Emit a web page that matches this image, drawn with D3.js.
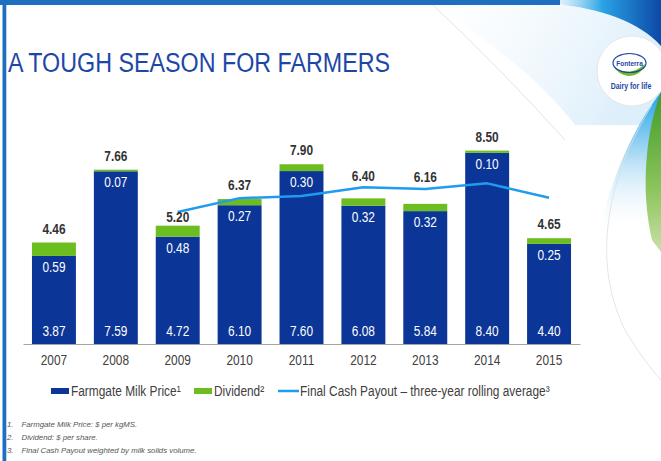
<!DOCTYPE html>
<html>
<head>
<meta charset="utf-8">
<script src="https://cdn.jsdelivr.net/npm/d3@7"></script>
<style>
  html, body { margin: 0; padding: 0; background: #fff; }
  svg { display: block; }
  text { font-family: "Liberation Sans", Arial, sans-serif; }
  .note { font-style: italic; }
</style>
</head>
<body>
<svg id="chart" width="661" height="461"></svg>
<script>
// Season years shown on the x axis
const years = ["2007", "2008", "2009", "2010", "2011", "2012", "2013", "2014", "2015"];
// Farmgate milk price, $ per kgMS
const milkPrice = [3.87, 7.59, 4.72, 6.10, 7.60, 6.08, 5.84, 8.40, 4.40];
// Dividend, $ per share
const dividend = [0.59, 0.07, 0.48, 0.27, 0.30, 0.32, 0.32, 0.10, 0.25];
// Final cash payout, three-year rolling average
const rollingYears = ["2009", "2010", "2011", "2012", "2013", "2014", "2015"];
const rollingAvg = [5.80, 6.41, 6.50, 6.89, 6.81, 7.06, 6.43];
// Legend and footnote texts
const legendLabels = ["Farmgate Milk Price\u00B9", "Dividend\u00B2", "Final Cash Payout \u2013 three-year rolling average\u00B3"];
const footnotes = ["Farmgate Milk Price: $ per kgMS.", "Dividend: $ per share.", "Final Cash Payout weighted by milk solids volume."];

const BLUE = "#0b3697", GREEN = "#6cbd1f", LINE = "#1f9bef", FRAME = "#1f6fc1";
const NARROW = 0.82; // horizontal squeeze that gives a narrow sans face
// Total labels sit 9px above their bar, except where the payout line runs close by.
const totalLabelGap = { "2009": 3.5, "2012": 17.5, "2013": 21.5 };

// Turn x/y placement into a transform so the glyphs can be condensed.
function narrow(sel) {
  sel.each(function () {
    const t = d3.select(this);
    const tx = +t.attr("x") || 0, ty = +t.attr("y") || 0;
    t.attr("x", 0).attr("y", 0).attr("transform", `translate(${tx},${ty}) scale(${NARROW},1)`);
  });
  return sel;
}

const svg = d3.select("#chart");
const defs = svg.append("defs");

// ---- slide background decoration ----
const haze = defs.append("linearGradient").attr("id", "haze").attr("x1", 0).attr("y1", 0).attr("x2", 1).attr("y2", 0.3);
haze.append("stop").attr("offset", "0").attr("stop-color", "#e8f4fc").attr("stop-opacity", 0);
haze.append("stop").attr("offset", "1").attr("stop-color", "#cfe8f8").attr("stop-opacity", 1);
const swoosh = defs.append("linearGradient").attr("id", "swoosh").attr("x1", 0).attr("y1", 0).attr("x2", 1).attr("y2", 0);
swoosh.append("stop").attr("offset", "0").attr("stop-color", "#8fd0f2").attr("stop-opacity", 0.2);
swoosh.append("stop").attr("offset", "0.45").attr("stop-color", "#29a3e6");
swoosh.append("stop").attr("offset", "1").attr("stop-color", "#0c48a6");
const wedge = defs.append("linearGradient").attr("id", "wedge").attr("x1", 0).attr("y1", 0).attr("x2", 0).attr("y2", 1);
wedge.append("stop").attr("offset", "0").attr("stop-color", "#20a2e6");
wedge.append("stop").attr("offset", "0.5").attr("stop-color", "#bfe3f7");
wedge.append("stop").attr("offset", "1").attr("stop-color", "#ffffff").attr("stop-opacity", 0);
const leaf = defs.append("linearGradient").attr("id", "leaf").attr("x1", 0).attr("y1", 0).attr("x2", 0).attr("y2", 1);
leaf.append("stop").attr("offset", "0").attr("stop-color", "#3f9a2a");
leaf.append("stop").attr("offset", "0.6").attr("stop-color", "#8cc45a");
leaf.append("stop").attr("offset", "1").attr("stop-color", "#c9e0a8");

const deco = svg.append("g");
deco.append("path").attr("d", "M430,5 C490,40 540,80 575,125 L661,125 L661,5 Z").attr("fill", "url(#haze)").attr("opacity", 0.7);
deco.append("path").attr("d", "M433,5 Q500,68 565,140").attr("fill", "none").attr("stroke", "#dcdcdc").attr("stroke-width", 0.8);
deco.append("path").attr("d", "M555,4 C600,8 640,22 661,46 L661,0 L555,0 Z").attr("fill", "url(#swoosh)");
deco.append("path").attr("d", "M661,92 C635,125 612,175 598,235 L661,235 Z").attr("fill", "url(#wedge)");
deco.append("path").attr("d", "M661,92 C646,130 640,190 652,240 L661,252 Z").attr("fill", "url(#leaf)");
deco.append("path").attr("d", "M652,105 C612,170 588,255 625,330 C638,352 650,368 661,380").attr("fill", "none").attr("stroke", "#dedede").attr("stroke-width", 0.8);
// logo disc
deco.append("circle").attr("cx", 632).attr("cy", 71).attr("r", 35).attr("fill", "#fff").attr("stroke", "#e2e2e2").attr("stroke-width", 0.8);
deco.append("path").attr("d", "M614,67 Q629,78 645,64 Q641,76 628,76 Q618,74 614,67 Z").attr("fill", "#6cbd1f");
deco.append("ellipse").attr("cx", 629.5).attr("cy", 63).attr("rx", 16.5).attr("ry", 9.5).attr("fill", "none").attr("stroke", "#1c47a6").attr("stroke-width", 1.2);
narrow(deco.append("text").attr("x", 629.5).attr("y", 65.5).attr("text-anchor", "middle").attr("font-size", 8).attr("font-weight", "bold").attr("fill", "#1c47a6").text("Fonterra"));
narrow(deco.append("text").attr("x", 631).attr("y", 89).attr("text-anchor", "middle").attr("font-size", 8.5).attr("font-weight", "bold").attr("fill", "#1c47a6").text("Dairy for life"));
// frame
deco.append("rect").attr("x", 0).attr("y", 0).attr("width", 560).attr("height", 5).attr("fill", FRAME);
deco.append("rect").attr("x", 2.5).attr("y", 0).attr("width", 3.8).attr("height", 461).attr("fill", FRAME);

// ---- title ----
narrow(svg.append("text").attr("x", 8).attr("y", 72).attr("font-size", 28.4).attr("fill", "#1c47a6")
  .text("A TOUGH SEASON FOR FARMERS"));

// ---- scales ----
const x = d3.scaleBand().domain(years).range([23, 580]).paddingInner(0.29).paddingOuter(0.145);
const y = d3.scaleLinear().domain([0, 8.5]).range([344, 150.6]);

const rows = years.map((yr, i) => ({ year: yr, milk: milkPrice[i], div: dividend[i], total: milkPrice[i] + dividend[i] }));

const g = svg.append("g");
// milk price bars
g.selectAll(".milk").data(rows).join("rect").attr("class", "milk")
  .attr("x", d => x(d.year)).attr("width", x.bandwidth())
  .attr("y", d => y(d.milk)).attr("height", d => y(0) - y(d.milk))
  .attr("fill", BLUE);
// dividend segments stacked on top
g.selectAll(".div").data(rows).join("rect").attr("class", "div")
  .attr("x", d => x(d.year)).attr("width", x.bandwidth())
  .attr("y", d => y(d.total)).attr("height", d => y(d.milk) - y(d.total))
  .attr("fill", GREEN);

// x axis
const xAxis = svg.append("g").attr("transform", `translate(0,${y(0)})`)
  .call(d3.axisBottom(x).tickSize(0).tickPadding(11));
xAxis.select(".domain").attr("stroke", "#a6a6a6").attr("stroke-width", 1);
xAxis.selectAll("text").attr("font-size", 14.5).attr("fill", "#404040")
  .attr("font-family", "'Liberation Sans', Arial, sans-serif")
  .attr("transform", `scale(${NARROW},1)`);

// rolling average line
const line = d3.line().x((d, i) => x(rollingYears[i]) + x.bandwidth() / 2).y(d => y(d));
svg.append("path").datum(rollingAvg).attr("d", line)
  .attr("fill", "none").attr("stroke", LINE).attr("stroke-width", 2.5).attr("stroke-linejoin", "round");

// value labels
const fmt = d3.format(".2f");
const cx = d => x(d.year) + x.bandwidth() / 2;
const labels = svg.append("g");
narrow(labels.selectAll(".milkLbl").data(rows).join("text").attr("class", "milkLbl")
  .attr("x", cx).attr("y", y(0) - 8).attr("text-anchor", "middle")
  .attr("font-size", 14.5).attr("fill", "#fff").text(d => fmt(d.milk)));
narrow(labels.selectAll(".divLbl").data(rows).join("text").attr("class", "divLbl")
  .attr("x", cx).attr("y", d => y(d.milk) + 16).attr("text-anchor", "middle")
  .attr("font-size", 14.5).attr("fill", "#fff").text(d => fmt(d.div)));
narrow(labels.selectAll(".totLbl").data(rows).join("text").attr("class", "totLbl")
  .attr("x", cx).attr("y", d => y(d.total) - (totalLabelGap[d.year] ?? 9)).attr("text-anchor", "middle")
  .attr("font-size", 14.5).attr("font-weight", "bold").attr("fill", "#333").text(d => fmt(d.total)));

// legend
const leg = svg.append("g");
const legY = 391;
leg.append("rect").attr("x", 51).attr("y", legY - 3).attr("width", 18).attr("height", 6).attr("fill", BLUE);
narrow(leg.append("text").attr("x", 71).attr("y", legY + 5).attr("font-size", 14.5).attr("fill", "#404040").text(legendLabels[0]));
leg.append("rect").attr("x", 194).attr("y", legY - 3).attr("width", 18).attr("height", 6).attr("fill", GREEN);
narrow(leg.append("text").attr("x", 214).attr("y", legY + 5).attr("font-size", 14.5).attr("fill", "#404040").text(legendLabels[1]));
leg.append("line").attr("x1", 278).attr("x2", 299).attr("y1", legY).attr("y2", legY).attr("stroke", LINE).attr("stroke-width", 2.5);
narrow(leg.append("text").attr("x", 300).attr("y", legY + 5).attr("font-size", 14.5).attr("fill", "#404040").text(legendLabels[2]));

// footnotes
const notes = svg.append("g");
footnotes.forEach((t, i) => {
  const yy = 427 + i * 12.8;
  notes.append("text").attr("class", "note").attr("x", 7).attr("y", yy).attr("font-size", 7.8).attr("fill", "#555").text((i + 1) + ".");
  notes.append("text").attr("class", "note").attr("x", 21.5).attr("y", yy).attr("font-size", 7.8).attr("fill", "#555").text(t);
});
</script>
</body>
</html>
